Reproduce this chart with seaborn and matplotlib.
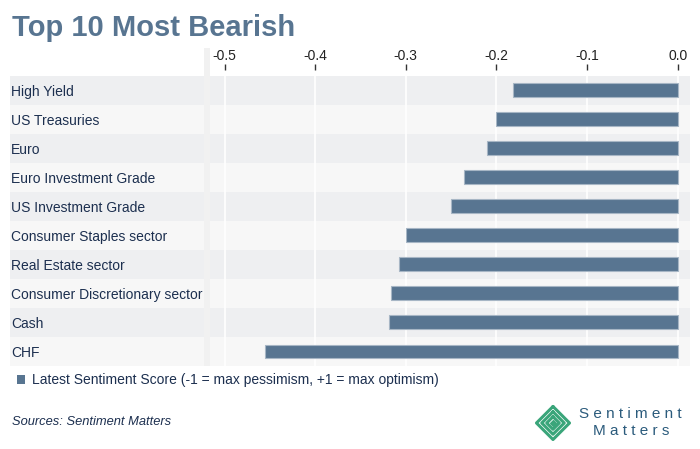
import numpy as np
import matplotlib
matplotlib.use('Agg')
import matplotlib.pyplot as plt
import seaborn as sns
from matplotlib.patches import Patch, Rectangle

# data
categories = ['High Yield', 'US Treasuries', 'Euro', 'Euro Investment Grade',
              'US Investment Grade', 'Consumer Staples sector', 'Real Estate sector',
              'Consumer Discretionary sector', 'Cash', 'CHF']
scores = [-0.182, -0.200, -0.210, -0.236, -0.250, -0.300, -0.308, -0.316, -0.318, -0.455]
xticks = [-0.5, -0.4, -0.3, -0.2, -0.1, 0.0]
xtick_labels = ['-0.5', '-0.4', '-0.3', '-0.2', '-0.1', '0.0']
legend_label = 'Latest Sentiment Score (-1 = max pessimism, +1 = max optimism)'

sns.set_theme(style='white')
plt.rcParams['font.family'] = ['Liberation Sans', 'DejaVu Sans']

W, H = 700, 449
bar_color = '#587591'
navy = '#1c2f4f'
band_a = '#eeeff1'
band_b = '#f7f7f7'
top_lim = -0.69

fig = plt.figure(figsize=(7, 4.49), dpi=100)
fig.patch.set_facecolor('white')

# alternating row bands across the whole width
bg = fig.add_axes([10/W, 1-366/H, 680/W, 296/H])
bg.set_xlim(0, 1)
bg.set_ylim(9.5, top_lim)
for i in range(len(categories)):
    bg.axhspan(max(i-0.5, top_lim), i+0.5, color=band_a if i % 2 == 0 else band_b, lw=0)
bg.axis('off')

# main plot
ax = fig.add_axes([210/W, 1-366/H, 480/W, 296/H])
ax.patch.set_alpha(0)
sns.barplot(x=scores, y=categories, orient='h', color=bar_color, saturation=1,
            width=0.48, edgecolor='#a7b6c5', linewidth=0.8, ax=ax, zorder=2)
ax.set_xlim(-0.516, 0.0136)
ax.set_ylim(9.5, top_lim)
ax.vlines(xticks, top_lim, 9.5, color='white', lw=1.2, zorder=0.5)
for s in ax.spines.values():
    s.set_visible(False)
ax.xaxis.tick_top()
ax.set_xticks(xticks)
ax.set_xticklabels(xtick_labels)
ax.tick_params(axis='x', length=4, width=1, color='#333333', pad=1,
               labelsize=10, labelcolor='#222222')
ax.set_xlabel('')
ax.set_ylabel('')
ax.tick_params(axis='y', length=0, pad=199*0.72, labelsize=10, labelcolor=navy)
for lab in ax.get_yticklabels():
    lab.set_ha('left')

# light strip between labels and plot
fig.patches.append(Rectangle((204/W, 1-366/H), 6/W, 318/H, transform=fig.transFigure,
                             color='#f1f1f1', lw=0, zorder=3))

# title
fig.text(12/W, 1-28/H, 'Top 10 Most Bearish', fontsize=21, fontweight='bold',
         color=bar_color, va='center')

# legend
fig.legend(handles=[Patch(facecolor=bar_color, edgecolor='none', label=legend_label)],
           loc='center left', bbox_to_anchor=(4/W, 1-380/H), frameon=False,
           handlelength=0.6, handleheight=0.6, handletextpad=0.5,
           prop={'size': 10}, labelcolor=navy)

fig.text(12/W, 1-422/H, 'Sources: Sentiment Matters', fontsize=9.3, style='italic',
         color=navy, va='center')

# logo
lg = fig.add_axes([534/W, 1-442/H, 38/W, 38/H])
green = '#3aa57a'
for r in [1.0, 0.68, 0.38]:
    lg.plot([0, r, 0, -r, 0], [r, 0, -r, 0, r], color=green, lw=2.2,
            solid_joinstyle='round')
lg.plot([0], [0], marker='D', color=green, ms=3)
lg.set_xlim(-1.15, 1.15)
lg.set_ylim(-1.15, 1.15)
lg.axis('off')
fig.text(579/W, 1-414/H, 'S e n t i m e n t', fontsize=11, color='#2b5b7c', va='center')
fig.text(593/W, 1-431/H, 'M a t t e r s', fontsize=11, color='#2b5b7c', va='center')

fig.savefig('out.png', dpi=100)
